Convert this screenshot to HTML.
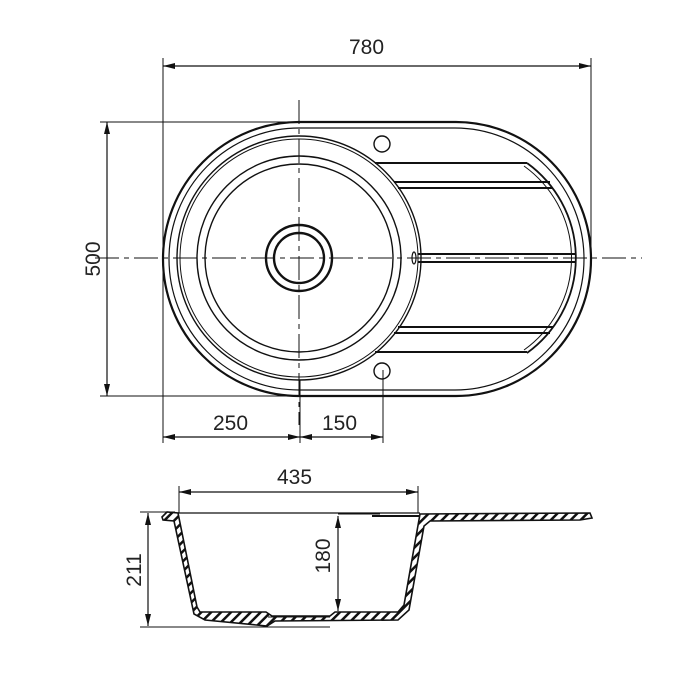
<!DOCTYPE html>
<html><head><style>body{margin:0;background:#fff}svg{display:block}text{font-family:"Liberation Sans",sans-serif;font-size:21px;fill:#222}</style></head><body>
<svg width="700" height="700" viewBox="0 0 700 700" xmlns="http://www.w3.org/2000/svg">
<defs>
<marker id="a" viewBox="0 0 12 6" refX="12" refY="3" markerWidth="12" markerHeight="6" orient="auto-start-reverse" markerUnits="userSpaceOnUse"><path d="M0,0L12,3L0,6z" fill="#111"/></marker>
<pattern id="h" width="7" height="7" patternUnits="userSpaceOnUse" patternTransform="rotate(45)"><rect width="7" height="7" fill="#fff"/><rect width="2.5" height="7" fill="#111"/></pattern>
</defs>
<g stroke="#111" fill="none">
<g stroke-width="1">
<line x1="163" y1="58" x2="163" y2="443"/>
<line x1="591" y1="58" x2="591" y2="262"/>
<line x1="100" y1="122" x2="300" y2="122"/>
<line x1="100" y1="396" x2="300" y2="396"/>
<line x1="383" y1="370" x2="383" y2="443"/>
<line x1="300" y1="380" x2="300" y2="443"/>
</g>
<g stroke-width="1.2">
<line x1="163" y1="66" x2="591" y2="66" marker-start="url(#a)" marker-end="url(#a)"/>
<line x1="107" y1="122" x2="107" y2="396" marker-start="url(#a)" marker-end="url(#a)"/>
<line x1="163" y1="437" x2="300" y2="437" marker-start="url(#a)" marker-end="url(#a)"/>
<line x1="300" y1="437" x2="383" y2="437" marker-start="url(#a)" marker-end="url(#a)"/>
</g>
<g stroke-width="1" stroke-dasharray="24,5,5,5">
<line x1="95" y1="258" x2="642" y2="258"/>
<line x1="299" y1="100" x2="299" y2="425"/>
</g>
<path d="M299,122 H456 A135,137 0 0 1 456,396 H299 A136,137 0 0 1 299,122Z" stroke-width="2.2"/>
<path d="M299,128 H455 A129,131 0 0 1 455,390 H299 A130,131 0 0 1 299,128Z" stroke-width="1.2"/>
<path d="M527,163 A120,118 0 0 1 527,353" stroke-width="1.8"/>
<path d="M524,166 A116,114 0 0 1 524,350" stroke-width="1"/>
<circle cx="299" cy="258" r="122" stroke-width="1.4"/>
<circle cx="299" cy="258" r="119" stroke-width="1"/>
<circle cx="299" cy="258" r="102" stroke-width="1.4"/>
<circle cx="299" cy="258" r="94" stroke-width="1.4"/>
<circle cx="299" cy="258" r="33" stroke-width="2.4"/>
<circle cx="299" cy="258" r="25" stroke-width="2.4"/>
<circle cx="382" cy="144" r="8" stroke-width="1.4"/>
<circle cx="382" cy="371" r="8" stroke-width="1.4"/>
<ellipse cx="414" cy="258" rx="2" ry="6" stroke-width="1.2"/>
<g stroke-width="2">
<line x1="375" y1="163" x2="527" y2="163"/>
<line x1="394" y1="182" x2="550" y2="182"/>
<line x1="398" y1="188" x2="553" y2="188"/>
<line x1="418" y1="254" x2="575" y2="254"/>
<line x1="418" y1="262" x2="575" y2="262"/>
<line x1="398" y1="327" x2="553" y2="327"/>
<line x1="394" y1="333" x2="550" y2="333"/>
<line x1="375" y1="352" x2="527" y2="352"/>
</g>
<g stroke-width="1">
<line x1="179" y1="486" x2="179" y2="513"/>
<line x1="418" y1="486" x2="418" y2="513"/>
<line x1="140" y1="512" x2="175" y2="512"/>
<line x1="140" y1="627" x2="330" y2="627"/>
<line x1="338" y1="514" x2="380" y2="514"/>
</g>
<g stroke-width="1.2">
<line x1="179" y1="492" x2="418" y2="492" marker-start="url(#a)" marker-end="url(#a)"/>
<line x1="148" y1="513" x2="148" y2="626" marker-start="url(#a)" marker-end="url(#a)"/>
<line x1="338" y1="516" x2="338" y2="611" marker-start="url(#a)" marker-end="url(#a)"/>
</g>
<path d="M162,517 L167,512 L178,513 L197,607 L200,612 L266,612 L272,616 L330,616 L335,612 L398,612 L404,605 L420,514 L590,513 L592,518 L580,520 L430,521 L424,526 L409,610 L398,620 L275,621 L267,626 L205,620 L194,614 L174,521 L163,520Z" fill="url(#h)" stroke-width="1.6"/>
<line x1="178" y1="513" x2="420" y2="513" stroke-width="1.2"/>
<line x1="372" y1="516" x2="420" y2="516" stroke-width="2"/>
<line x1="268" y1="617" x2="330" y2="617" stroke-width="1"/>
</g>
<text x="349" y="54">780</text>
<text x="213" y="430">250</text>
<text x="322" y="430">150</text>
<text x="277" y="484">435</text>
<text transform="translate(100,259) rotate(-90)" text-anchor="middle">500</text>
<text transform="translate(141,570) rotate(-90)" text-anchor="middle">211</text>
<text transform="translate(330,556) rotate(-90)" text-anchor="middle">180</text>
</svg>
</body></html>
